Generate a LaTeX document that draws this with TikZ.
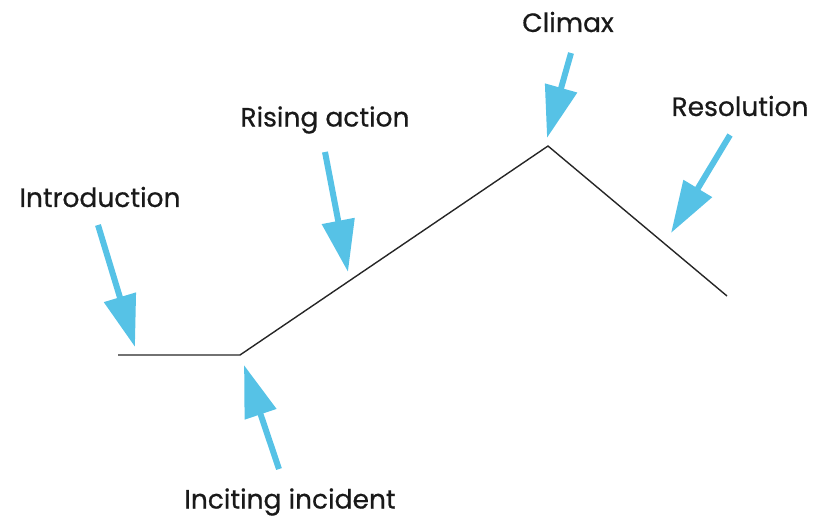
\documentclass[tikz,border=0pt]{standalone}
\usepackage{fontspec}
\setmainfont{Poppins}
\newfontfamily\stagefont{Poppins}[UprightFeatures={FakeBold=0.6}]
\usetikzlibrary{arrows.meta}
\definecolor{skyblue}{RGB}{86,194,230}

\begin{document}
\begin{tikzpicture}
[x=1pt, y=-1pt,
stage/.style={font=\stagefont\fontsize{26.5}{30}\selectfont, text=black!90},
plot/.style={line width=1.4pt, black!85},
pointer/.style={line width=6pt, skyblue, -{Triangle[length=52pt, width=32pt]}},]
\useasboundingbox (0,0) rectangle (819,520);
% story line
\coordinate (start) at (118,355);
\coordinate (incite) at (240,355);
\coordinate (peak) at (548,146);
\coordinate (finish) at (727,296);
\draw[plot] (start) -- (incite) -- (peak) -- (finish);
% labels
\node (intro) [stage] at (100,197) {Introduction};
\node (rising) [stage] at (325,120) {Rising action};
\node (climax) [stage] at (568,22) {Climax};
\node (resol) [stage] at (740,106) {Resolution};
\node (inciting) [stage] at (290,502) {Inciting incident};
% arrow ends
\coordinate (introtail) at (98,225);
\coordinate (introtip) at (135,347);
\coordinate (incitetail) at (279,469);
\coordinate (incitetip) at (244,365);
\coordinate (risetail) at (325,152);
\coordinate (risetip) at (348,272);
\coordinate (climaxtail) at (571,53);
\coordinate (climaxtip) at (547,138);
\coordinate (resoltail) at (730,135);
\coordinate (resoltip) at (671,233);
\draw[pointer] (introtail) -- (introtip);
\draw[pointer] (incitetail) -- (incitetip);
\draw[pointer] (risetail) -- (risetip);
\draw[pointer] (climaxtail) -- (climaxtip);
\draw[pointer] (resoltail) -- (resoltip);
\end{tikzpicture}
\end{document}
